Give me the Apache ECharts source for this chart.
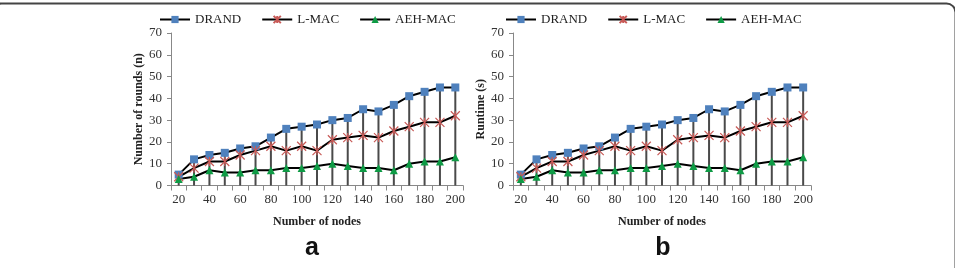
<!DOCTYPE html>
<html>
<head>
<meta charset="utf-8">
<script src="https://cdn.jsdelivr.net/npm/echarts@6/dist/echarts.min.js"></script>
<style>
  html, body { margin: 0; padding: 0; background: #fff; }
  #main { width: 955px; height: 268px; }
</style>
</head>
<body>
<div id="main"></div>
<script>
// x categories: number of nodes
const nodes = ['20', '30', '40', '50', '60', '70', '80', '90', '100', '110', '120', '130', '140', '150', '160', '170', '180', '190', '200'];
// (a) number of rounds
const roundsDrand = [5, 12, 14, 15, 17, 18, 22, 26, 27, 28, 30, 31, 35, 34, 37, 41, 43, 45, 45];
const roundsLmac = [4, 8, 11, 11, 14, 16, 18, 16, 18, 16, 21, 22, 23, 22, 25, 27, 29, 29, 32];
const roundsAeh = [3, 4, 7, 6, 6, 7, 7, 8, 8, 9, 10, 9, 8, 8, 7, 10, 11, 11, 13];
// (b) runtime (s)
const runDrand = [5, 12, 14, 15, 17, 18, 22, 26, 27, 28, 30, 31, 35, 34, 37, 41, 43, 45, 45];
const runLmac = [4, 8, 11, 11, 14, 16, 18, 16, 18, 16, 21, 22, 23, 22, 25, 27, 29, 29, 32];
const runAeh = [3, 4, 7, 6, 6, 7, 7, 8, 8, 9, 10, 9, 8, 8, 7, 10, 11, 11, 13];

const serif = 'Liberation Serif';
const names = ['DRAND', 'L-MAC', 'AEH-MAC'];
const starPath = 'path://M0,0L10,10M10,0L0,10M5,0L5,10';

// 画一组三条折线 + 垂线
const makeSeries = (idx, drand, lmac, aeh) => {
    return [
        {
            name: 'drop', type: 'bar', xAxisIndex: idx, yAxisIndex: idx,
            data: drand, barWidth: 2, silent: true, z: 1,
            itemStyle: { color: '#4a4a4a' }
        },
        {
            name: 'DRAND', type: 'line', xAxisIndex: idx, yAxisIndex: idx, data: drand,
            symbol: 'rect', symbolSize: 8, z: 3,
            lineStyle: { color: '#000', width: 2 },
            itemStyle: { color: '#4F81BD' }
        },
        {
            name: 'L-MAC', type: 'line', xAxisIndex: idx, yAxisIndex: idx, data: lmac,
            symbol: starPath, symbolSize: 9, z: 3,
            lineStyle: { color: '#000', width: 2 },
            itemStyle: { color: 'rgba(0,0,0,0)', borderColor: '#C85A57', borderWidth: 1.2 }
        },
        {
            name: 'AEH-MAC', type: 'line', xAxisIndex: idx, yAxisIndex: idx, data: aeh,
            symbol: 'triangle', symbolSize: 8, z: 3,
            lineStyle: { color: '#000', width: 2 },
            itemStyle: { color: '#0E9B45' }
        }
    ];
};

const makeX = (idx) => ({
    type: 'category', gridIndex: idx, data: nodes, boundaryGap: true,
    name: 'Number of nodes', nameLocation: 'middle', nameGap: 30,
    nameTextStyle: { fontFamily: serif, fontWeight: 'bold', fontSize: 12, color: '#222' },
    axisLine: { lineStyle: { color: '#888', width: 1 } },
    axisTick: { show: true, interval: 0, length: 5, lineStyle: { color: '#888' } },
    axisLabel: { interval: 1, fontFamily: serif, fontSize: 13, color: '#333', margin: 8 }
});

const makeY = (idx, title) => ({
    type: 'value', gridIndex: idx, min: 0, max: 70, interval: 10,
    name: title, nameLocation: 'middle', nameGap: 26, nameRotate: 90,
    nameTextStyle: { fontFamily: serif, fontWeight: 'bold', fontSize: 12, color: '#222' },
    splitLine: { show: false },
    axisLine: { show: true, lineStyle: { color: '#888', width: 1 } },
    axisTick: { show: true, length: 4, lineStyle: { color: '#888' } },
    axisLabel: { fontFamily: serif, fontSize: 13, color: '#333', margin: 9 }
});

const makeLegend = (left) => ({
    data: names, left: left, top: 8, itemWidth: 30, itemHeight: 9, itemGap: 20,
    textStyle: { fontFamily: serif, fontSize: 13, color: '#222' }
});

const chart = echarts.init(document.getElementById('main'));
chart.setOption({
    animation: false,
    backgroundColor: '#fff',
    legend: [makeLegend(154), makeLegend(500)],
    grid: [
        { left: 171, top: 33, width: 292, height: 152.5 },
        { left: 513, top: 33, width: 298, height: 152.5 }
    ],
    xAxis: [makeX(0), makeX(1)],
    yAxis: [makeY(0, 'Number of rounds (n)'), makeY(1, 'Runtime (s)')],
    series: [].concat(
        makeSeries(0, roundsDrand, roundsLmac, roundsAeh),
        makeSeries(1, runDrand, runLmac, runAeh)
    ),
    graphic: [
        {
            type: 'rect', left: -10, top: 1, silent: true,
            shape: { width: 963, height: 290, r: 9 },
            style: { fill: 'none', stroke: '#444', lineWidth: 2 }
        },
        {
            type: 'text', x: 312, y: 248,
            style: { text: 'a', font: 'bold 25px "Liberation Sans"', fill: '#111', align: 'center', verticalAlign: 'middle' }
        },
        {
            type: 'text', x: 663, y: 248,
            style: { text: 'b', font: 'bold 25px "Liberation Sans"', fill: '#111', align: 'center', verticalAlign: 'middle' }
        }
    ]
});
</script>
</body>
</html>
